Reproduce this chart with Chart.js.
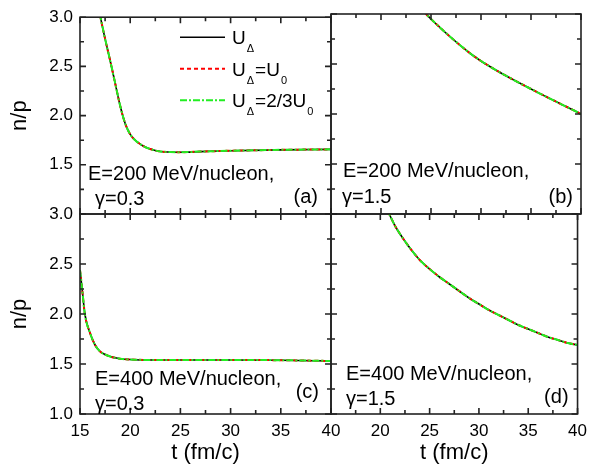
<!DOCTYPE html>
<html>
<head>
<meta charset="utf-8">
<script src="https://cdn.jsdelivr.net/npm/chart.js@4.4.1/dist/chart.umd.min.js"></script>
<style>
  html, body { margin: 0; padding: 0; background: #fff; }
  #wrap { position: relative; width: 594px; height: 472px; }
  #wrap canvas { position: absolute; left: 0; top: 0; }
</style>
</head>
<body>
<div id="wrap">
  <canvas id="pa" width="594" height="472"></canvas>
  <canvas id="pb" width="594" height="472"></canvas>
  <canvas id="pc" width="594" height="472"></canvas>
  <canvas id="pd" width="594" height="472"></canvas>
</div>
<script>
// n/p ratio vs time
// (the three U_Delta curves lie on top of each other)
var tA  = [16.5, 17, 17.5, 18, 18.5, 19, 19.5, 20, 20.5, 21, 21.5, 22, 22.5, 23, 24, 25, 27, 30, 35, 40];
var npA = [3.30, 3.02, 2.78, 2.56, 2.33, 2.10, 1.92, 1.81, 1.75, 1.71, 1.68, 1.66, 1.645, 1.635, 1.63, 1.628, 1.634, 1.643, 1.652, 1.657];

var tB  = [24, 24.5, 25, 26, 27, 28, 29, 30, 31, 32, 33, 34, 35, 36, 37, 38, 39, 40];
var npB = [3.05, 3.0, 2.95, 2.855, 2.765, 2.68, 2.60, 2.53, 2.468, 2.41, 2.355, 2.302, 2.25, 2.199, 2.149, 2.099, 2.05, 2.0];

var tC  = [15, 15.2, 15.5, 16, 16.5, 17, 17.5, 18, 18.5, 19, 20, 22, 25, 30, 35, 40];
var npC = [2.44, 2.26, 1.99, 1.81, 1.69, 1.625, 1.595, 1.575, 1.562, 1.553, 1.545, 1.54, 1.54, 1.54, 1.538, 1.53];

var tD  = [20.5, 21, 21.5, 22, 23, 24, 25, 26, 27, 28, 29, 30, 31, 32, 33, 34, 35, 36, 37, 38, 39, 40];
var npD = [3.08, 2.98, 2.88, 2.80, 2.66, 2.54, 2.45, 2.37, 2.30, 2.23, 2.16, 2.10, 2.04, 1.99, 1.94, 1.89, 1.85, 1.81, 1.77, 1.74, 1.71, 1.69];

// tick positions: majors every 5 / 0.5, minors halfway
var xTickVals = [15, 17.5, 20, 22.5, 25, 27.5, 30, 32.5, 35, 37.5, 40];
var yTickVals = [1, 1.25, 1.5, 1.75, 2, 2.25, 2.5, 2.75, 3];

var FONT = "'Liberation Sans', Arial, sans-serif";
Chart.defaults.color = '#000';
Chart.defaults.font.family = FONT;

// frame with inward major/minor ticks on all four sides
var framePlugin = {
  id: 'frame',
  afterDraw: function (chart) {
    var ctx = chart.ctx, a = chart.chartArea;
    var xs = chart.scales.x, ys = chart.scales.y;
    var w = a.right - a.left, h = a.bottom - a.top;
    ctx.save();
    ctx.setLineDash([]);
    ctx.strokeStyle = '#222';
    ctx.lineWidth = 1.6;
    xTickVals.forEach(function (v, i) {
      var px = a.left + w * (v - xs.min) / (xs.max - xs.min);
      var len = (i % 2 === 0) ? 6 : 4;
      ctx.strokeRect(px, a.bottom - len, 0, len);
      ctx.strokeRect(px, a.top, 0, len);
    });
    yTickVals.forEach(function (v, i) {
      var py = a.bottom - h * (v - ys.min) / (ys.max - ys.min);
      var len = (i % 2 === 0) ? 6 : 4;
      ctx.strokeRect(a.left, py, len, 0);
      ctx.strokeRect(a.right - len, py, len, 0);
    });
    ctx.strokeRect(a.left, a.top, w, h);
    ctx.restore();
  }
};

var legendLabels = [
  [{t: 'U'}, {t: 'Δ', sub: true}],
  [{t: 'U'}, {t: 'Δ', sub: true}, {t: '=U'}, {t: '0', sub: true}],
  [{t: 'U'}, {t: 'Δ', sub: true}, {t: '=2/3U'}, {t: '0', sub: true}]
];

// panel notes and the legend of panel (a)
var notesPlugin = {
  id: 'notes',
  afterDraw: function (chart, args, opts) {
    var ctx = chart.ctx, a = chart.chartArea;
    ctx.save();
    ctx.fillStyle = '#000';
    ctx.textBaseline = 'alphabetic';
    ctx.font = '20px ' + FONT;
    ctx.textAlign = 'left';
    ctx.fillText(opts.energy, a.left + opts.ex, a.bottom - opts.ey);
    ctx.fillText(opts.gamma, a.left + opts.gx, a.bottom - opts.gy);
    ctx.textAlign = 'right';
    ctx.fillText(opts.tag, a.right - opts.tx, a.bottom - opts.ty);

    if (opts.legend) {
      var ds = chart.data.datasets;
      for (var i = 0; i < legendLabels.length; i++) {
        var ly = a.top + 20 + i * 31.5;
        ctx.save();
        ctx.strokeStyle = ds[i].borderColor;
        ctx.lineWidth = ds[i].borderWidth;
        ctx.setLineDash(ds[i].borderDash || []);
        ctx.beginPath();
        ctx.moveTo(180, ly); ctx.lineTo(225, ly);
        ctx.stroke();
        ctx.restore();
        var x = 232, base = ly + 7;
        ctx.textAlign = 'left';
        legendLabels[i].forEach(function (seg) {
          if (seg.sub) {
            ctx.font = '11px ' + FONT;
            ctx.fillText(seg.t, x + 1, base + 8);
            x += ctx.measureText(seg.t).width + 2;
          } else {
            ctx.font = '19px ' + FONT;
            ctx.fillText(seg.t, x, base);
            x += ctx.measureText(seg.t).width;
          }
        });
      }
    }
    ctx.restore();
  }
};

function pts(t, np) {
  return t.map(function (x, i) { return {x: x, y: np[i]}; });
}

function series(t, np) {
  return [
    {label: 'UΔ', data: pts(t, np), borderColor: '#000000', borderWidth: 1.6, order: 3},
    {label: 'UΔ=U0', data: pts(t, np), borderColor: '#ff0000', borderWidth: 2, borderDash: [4, 3], order: 2},
    {label: 'UΔ=2/3U0', data: pts(t, np), borderColor: '#22ee22', borderWidth: 2, borderDash: [7, 2, 2, 2], order: 1}
  ];
}

function makePanel(id, t, np, p) {
  new Chart(document.getElementById(id), {
    type: 'line',
    data: { datasets: series(t, np) },
    options: {
      responsive: false,
      animation: false,
      devicePixelRatio: 1,
      layout: { padding: p.pad },
      elements: {
        point: { radius: 0 },
        line: { cubicInterpolationMode: 'monotone', fill: false }
      },
      plugins: {
        legend: { display: false },
        tooltip: { enabled: false },
        notes: p.notes
      },
      scales: {
        x: {
          type: 'linear', min: 15, max: 40,
          grid: { display: false, drawTicks: false },
          border: { display: false },
          ticks: {
            display: p.xLabels, stepSize: 5, padding: 7,
            font: { size: 17 },
            callback: function (v) { return p.hideX.indexOf(v) >= 0 ? '' : v; }
          },
          title: {
            display: p.xLabels, text: 't (fm/c)',
            font: { size: 22 }, padding: { top: 0, bottom: 6 }
          },
          afterFit: function (s) { s.height = p.xh; }
        },
        y: {
          type: 'linear', min: 1, max: 3,
          grid: { display: false, drawTicks: false },
          border: { display: false },
          ticks: {
            display: p.yLabels, stepSize: 0.5, padding: 7,
            font: { size: 17 },
            callback: function (v) { return p.hideY.indexOf(v) >= 0 ? '' : v.toFixed(1); }
          },
          title: {
            display: p.yLabels, text: 'n/p',
            font: { size: 22 }, padding: { top: 7, bottom: 0 }
          },
          afterFit: function (s) { s.width = p.yw; }
        }
      }
    },
    plugins: [framePlugin, notesPlugin]
  });
}

makePanel('pa', tA, npA, {
  pad: {left: 0, top: 14, right: 263, bottom: 258}, yw: 80, xh: 0,
  xLabels: false, yLabels: true, hideX: [], hideY: [1],
  notes: {energy: 'E=200 MeV/nucleon,', gamma: 'γ=0.3', tag: '(a)',
          ex: 8, ey: 34, gx: 15, gy: 9, tx: 13, ty: 11, legend: true}
});
makePanel('pb', tB, npB, {
  pad: {left: 331, top: 14, right: 13, bottom: 258}, yw: 0, xh: 0,
  xLabels: false, yLabels: false, hideX: [], hideY: [],
  notes: {energy: 'E=200 MeV/nucleon,', gamma: 'γ=1.5', tag: '(b)',
          ex: 12, ey: 37, gx: 11, gy: 11, tx: 8, ty: 11}
});
makePanel('pc', tC, npC, {
  pad: {left: 0, top: 214, right: 263, bottom: 0}, yw: 80, xh: 58,
  xLabels: true, yLabels: true, hideX: [], hideY: [],
  notes: {energy: 'E=400 MeV/nucleon,', gamma: 'γ=0.3', tag: '(c)',
          ex: 15, ey: 29, gx: 15, gy: 4, tx: 12, ty: 16}
});
makePanel('pd', tD, npD, {
  pad: {left: 331, top: 214, right: 13, bottom: 0}, yw: 0, xh: 58,
  xLabels: true, yLabels: false, hideX: [15], hideY: [],
  notes: {energy: 'E=400 MeV/nucleon,', gamma: 'γ=1.5', tag: '(d)',
          ex: 15, ey: 34, gx: 15, gy: 9, tx: 9, ty: 11}
});
</script>
</body>
</html>
